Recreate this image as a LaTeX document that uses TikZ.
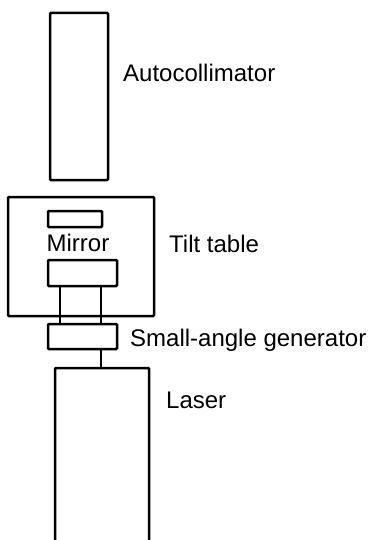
\documentclass[tikz,border=0pt]{standalone}
\usepackage{fontspec}
\setmainfont{Liberation Sans}
\begin{document}
\begin{tikzpicture}[x=1pt,y=-1pt,
  box/.style={draw=black, line width=2.5pt, rounded corners=1pt, inner sep=0pt, outer sep=0pt, fill=none},
  lbl/.style={anchor=base west, inner sep=0pt, font=\fontsize{24}{28}\selectfont},
  link/.style={draw=black, line width=1.3pt}]
\useasboundingbox (0,0) rectangle (370,540);
\clip (0,0) rectangle (370,540);
% boxes
\node[box, minimum width=58pt, minimum height=167pt] (auto) at (79,96.5) {};
\node[box, minimum width=146pt, minimum height=119pt] (tilt) at (81,256.5) {};
\node[box, minimum width=54pt, minimum height=16pt] (mirror) at (75,219) {};
\node[box, minimum width=69pt, minimum height=26pt] (plate) at (82.5,273) {};
\node[box, minimum width=69pt, minimum height=25pt] (sag) at (82.5,336.5) {};
\node[box, minimum width=94pt, minimum height=200pt] (laser) at (102,468) {};
% connectors
\coordinate (sagout) at ([xshift=18.5pt]sag.south);
\draw[link] ([xshift=-22.5pt]plate.south) -- ([xshift=-22.5pt]sag.north);
\draw[link] ([xshift=18.5pt]plate.south) -- ([xshift=18.5pt]sag.north);
\draw[link] (sagout) -- (laser.north -| sagout);
% labels
\node[lbl, anchor=base] (mirrortxt) at (78,251) {Mirror};
\node[lbl] (autotxt) at (123,82) {Autocollimator};
\node[lbl] (tilttxt) at (169,252) {Tilt table};
\node[lbl] (sagtxt) at (130,346.5) {Small-angle generator};
\node[lbl] (lasertxt) at (166,408) {Laser};
\end{tikzpicture}
\end{document}
